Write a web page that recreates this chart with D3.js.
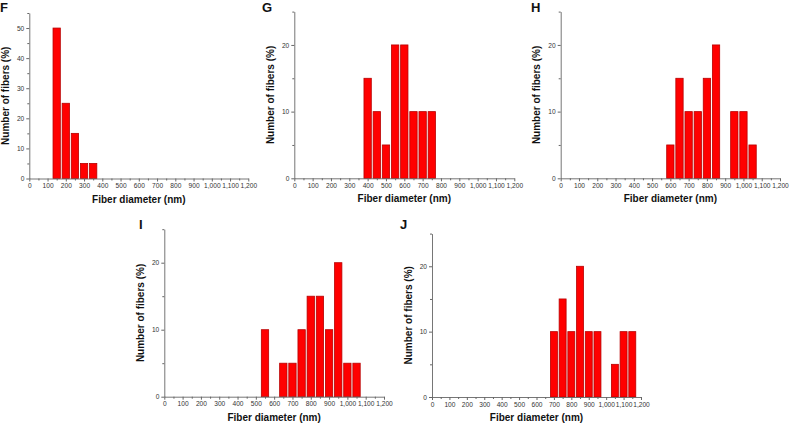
<!DOCTYPE html>
<html>
<head>
<meta charset="utf-8">
<script src="https://cdn.jsdelivr.net/npm/d3@7"></script>
<style>
  body { margin: 0; background: #fff; }
  svg { display: block; font-family: "Liberation Sans", Arial, sans-serif; }
  .tick text { fill: #333; font-size: 6.6px; }
  .domain, .tick line { stroke: #666; }
  .ttl { font-weight: bold; font-size: 10px; fill: #111; }
  .lbl { font-weight: bold; font-size: 13px; fill: #111; }
</style>
</head>
<body>
<div id="chart"></div>
<script>
// fiber diameter histograms, bin centres (nm) and % of fibers
var fBins = [150, 200, 250, 300, 350];
var fPct  = [50, 25, 15, 5, 5];
var gBins = [400, 450, 500, 550, 600, 650, 700, 750];
var gPct  = [15, 10, 5, 20, 20, 10, 10, 10];
var hBins = [600, 650, 700, 750, 800, 850, 950, 1000, 1050];
var hPct  = [5, 15, 10, 10, 15, 20, 10, 10, 5];
var iBins = [550, 650, 700, 750, 800, 850, 900, 950, 1000, 1050];
var iPct  = [10, 5, 5, 10, 15, 15, 10, 20, 5, 5];
var jBins = [700, 750, 800, 850, 900, 950, 1050, 1100, 1150];
var jPct  = [10, 15, 10, 20, 10, 10, 5, 10, 10];

var xMajor = d3.range(0, 1201, 100);
var xMinor = d3.range(50, 1200, 100);
var binHalf = 20;

var svg = d3.select("#chart").append("svg")
    .attr("width", 791)
    .attr("height", 423);

var panels = [
    {name: "F", bins: fBins, pct: fPct, yMax: 55, yStep: 10, left: 29.3, right: 248.3, bottom: 178.5, top: 13, lx: 0, ly: 11.5},
    {name: "G", bins: gBins, pct: gPct, yMax: 25, yStep: 10, left: 294.3, right: 514.3, bottom: 178.3, top: 11.6, lx: 262, ly: 11.5},
    {name: "H", bins: hBins, pct: hPct, yMax: 25, yStep: 10, left: 560.7, right: 780, bottom: 178.3, top: 11.6, lx: 531, ly: 11.5},
    {name: "I", bins: iBins, pct: iPct, yMax: 25, yStep: 10, left: 164.3, right: 384, bottom: 396.7, top: 229.2, lx: 139, ly: 229},
    {name: "J", bins: jBins, pct: jPct, yMax: 25, yStep: 10, left: 432, right: 641, bottom: 397, top: 233.6, lx: 400, ly: 229}
];

panels.forEach(function(p) {
    var g = svg.append("g");

    var x = d3.scaleLinear().domain([0, 1200]).range([p.left, p.right]);
    var y = d3.scaleLinear().domain([0, p.yMax]).range([p.bottom, p.top]);

    var data = p.bins.map(function(b, i) { return {d: b, v: p.pct[i]}; })
        .filter(function(d) { return d.v > 0; });

    // bars
    g.selectAll("rect")
        .data(data)
        .enter()
        .append("rect")
        .attr("x", function(d) { return x(d.d - binHalf); })
        .attr("y", function(d) { return y(d.v); })
        .attr("width", function(d) { return x(d.d + binHalf) - x(d.d - binHalf); })
        .attr("height", function(d) { return y(0) - y(d.v); })
        .attr("fill", "#ff0000")
        .attr("stroke", "#b80000")
        .attr("stroke-width", 0.8);

    // x axis
    g.append("g")
        .attr("transform", "translate(0," + p.bottom + ")")
        .call(d3.axisBottom(x).tickValues(xMajor).tickFormat(d3.format(",")).tickSize(3).tickSizeOuter(0).tickPadding(2));
    g.append("g")
        .attr("transform", "translate(0," + p.bottom + ")")
        .call(d3.axisBottom(x).tickValues(xMinor).tickFormat("").tickSize(2).tickSizeOuter(0))
        .select(".domain").remove();

    // y axis
    var yMajor = d3.range(0, p.yMax + 0.1, p.yStep);
    var yMinor = d3.range(p.yStep / 2, p.yMax + 0.1, p.yStep);
    g.append("g")
        .attr("transform", "translate(" + p.left + ",0)")
        .call(d3.axisLeft(y).tickValues(yMajor).tickSize(3).tickSizeOuter(0).tickPadding(2));
    g.append("g")
        .attr("transform", "translate(" + p.left + ",0)")
        .call(d3.axisLeft(y).tickValues(yMinor).tickFormat("").tickSize(2).tickSizeOuter(0))
        .select(".domain").remove();

    g.selectAll(".domain").attr("stroke-width", 0.9);

    // titles
    g.append("text")
        .attr("class", "ttl")
        .attr("x", (p.left + p.right) / 2)
        .attr("y", p.bottom + 24)
        .attr("text-anchor", "middle")
        .text("Fiber diameter (nm)");

    g.append("text")
        .attr("class", "ttl")
        .attr("transform", "translate(" + (p.left - 20.5) + "," + ((p.top + p.bottom) / 2) + ") rotate(-90)")
        .attr("text-anchor", "middle")
        .text("Number of fibers (%)");

    g.append("text")
        .attr("class", "lbl")
        .attr("x", p.lx)
        .attr("y", p.ly)
        .text(p.name);
});
</script>
</body>
</html>
